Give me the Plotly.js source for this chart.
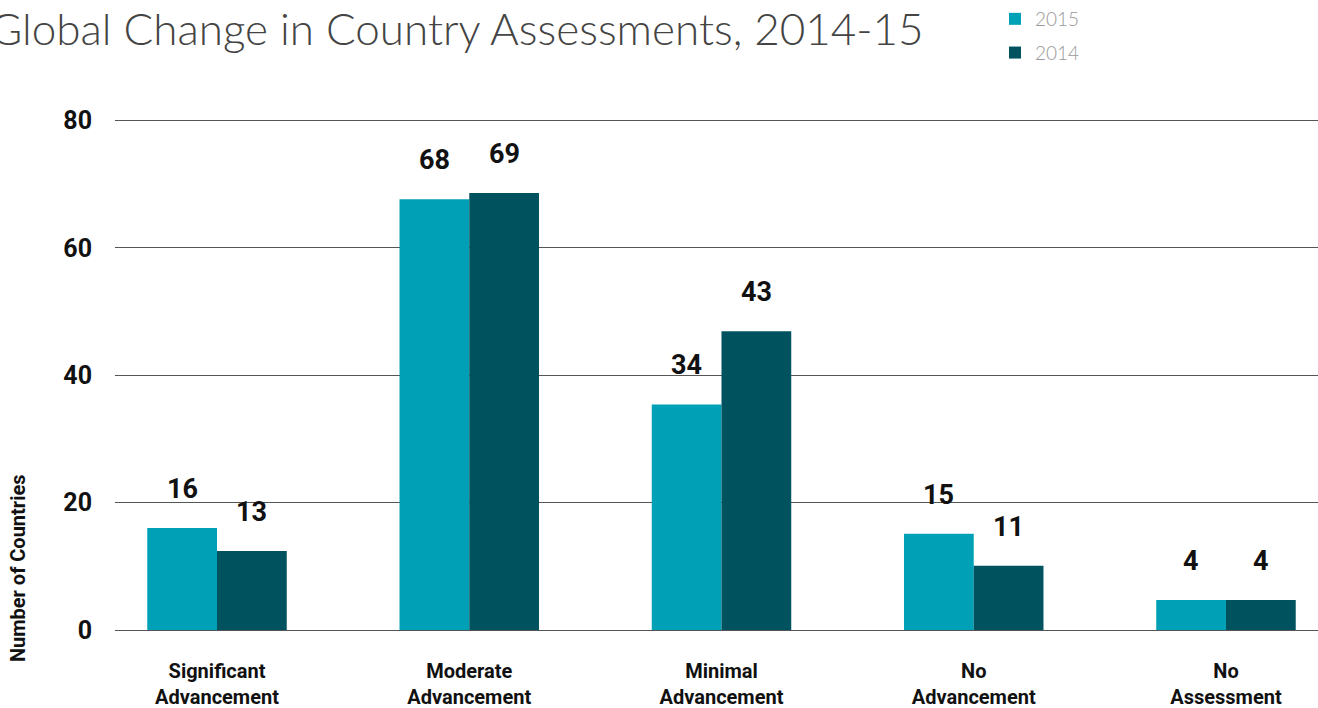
<!DOCTYPE html>
<html>
<head>
<meta charset="utf-8">
<script src="https://cdn.plot.ly/plotly-3.0.1.min.js"></script>
<style>
html,body{margin:0;padding:0;background:#fff;}
#chart{width:1318px;height:708px;}
</style>
</head>
<body>
<div id="chart"></div>
<script>
// ---- data ----
const categories = ["Significant<br>Advancement", "Moderate<br>Advancement", "Minimal<br>Advancement", "No<br>Advancement", "No<br>Assessment"];
const series2015 = [16.0, 67.6, 35.4, 15.1, 4.7];   // bar heights as drawn
const series2014 = [12.4, 68.6, 46.9, 10.1, 4.7];
const labels2015 = ["16", "68", "34", "15", "4"];   // printed value labels
const labels2014 = ["13", "69", "43", "11", "4"];
const yTicks = [0, 20, 40, 60, 80];
const titleText = "Global Change in Country Assessments, 2014-15";
const yTitle = "Number of Countries";

// ---- style ----
const c2015 = "#00A1B7";
const c2014 = "#00525F";
const boldFont = "Roboto, 'Liberation Sans', sans-serif";
const bargap = 0.447;
const half = (1 - bargap) / 4;

const traces = [
  {type: "bar", name: "2015", x: categories, y: series2015, marker: {color: c2015}, legendgroup: "a", hoverinfo: "skip"},
  {type: "bar", name: "2014", x: categories, y: series2014, marker: {color: c2014}, legendgroup: "b", hoverinfo: "skip"}
];

const annotations = [];
categories.forEach((c, i) => {
  annotations.push({x: i - half, y: series2015[i], xref: "x", yref: "y", text: labels2015[i], showarrow: false,
    yanchor: "middle", yshift: 39, font: {family: boldFont, size: 27, color: "#111", weight: 700}});
  annotations.push({x: i + half, y: series2014[i], xref: "x", yref: "y", text: labels2014[i], showarrow: false,
    yanchor: "middle", yshift: 39, font: {family: boldFont, size: 27, color: "#111", weight: 700}});
});
// rotated axis title
annotations.push({x: -0.0806, y: 0.12, xref: "paper", yref: "paper", text: yTitle, textangle: -90, showarrow: false,
  xanchor: "center", yanchor: "middle", font: {family: boldFont, size: 20, color: "#111", weight: 700}});
// chart title (starts slightly off the left edge, as in the reference)
annotations.push({x: -0.1056, y: 1.1667, xref: "paper", yref: "paper", text: titleText, showarrow: false,
  xanchor: "left", yanchor: "middle", font: {family: "Lato, 'Open Sans', sans-serif", size: 44, color: "#444", weight: 300}});

const layout = {
  width: 1318, height: 708,
  margin: {l: 115, r: 0, t: 114, b: 78},
  paper_bgcolor: "#fff", plot_bgcolor: "#fff",
  barmode: "group", bargap: bargap, bargroupgap: 0,
  showlegend: true,
  legend: {x: 0.7315, xref: "paper", xanchor: "left", y: 1.0, yref: "container", yanchor: "top",
    traceorder: "grouped", tracegroupgap: 6, font: {family: "Lato, sans-serif", size: 19, color: "#999", weight: 300},
    bgcolor: "rgba(0,0,0,0)"},
  xaxis: {type: "category", range: [-0.4044, 4.3648], showgrid: false, zeroline: false, showline: false, ticks: "",
    tickfont: {family: boldFont, size: 20, color: "#111", weight: 700}, ticklabelstandoff: 27, fixedrange: true},
  yaxis: {range: [0, 81], tickvals: yTicks, ticktext: yTicks.map(String), showgrid: true, gridcolor: "#555", gridwidth: 1,
    zeroline: true, zerolinecolor: "#555", zerolinewidth: 1, showline: false, ticks: "",
    tickfont: {family: boldFont, size: 25, color: "#111", weight: 700}, ticklabelstandoff: 22, fixedrange: true},
  annotations: annotations
};

Plotly.newPlot("chart", traces, layout, {displayModeBar: false, staticPlot: true});
</script>
</body>
</html>
